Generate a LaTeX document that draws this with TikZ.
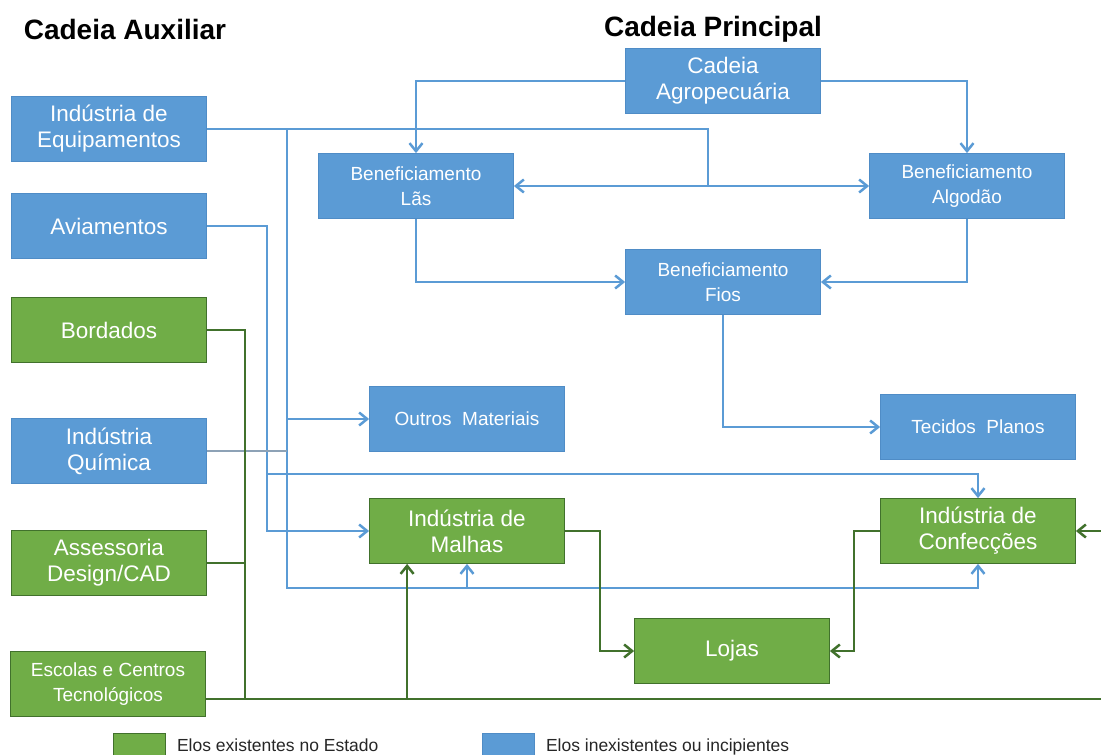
\documentclass[tikz,border=0pt]{standalone}
\usepackage{fontspec}
\setmainfont{Liberation Sans}
\usetikzlibrary{arrows.meta,positioning}
\definecolor{azul}{HTML}{5B9BD5}
\definecolor{azulborda}{HTML}{4F8CC6}
\definecolor{verde}{HTML}{70AD47}
\definecolor{verdeescuro}{HTML}{41712C}
\definecolor{cinza}{HTML}{8DA2B6}
\newcommand{\letragrande}{\fontsize{22.5}{26}\selectfont}
\newcommand{\letramedia}{\fontsize{19}{25}\selectfont}

\begin{document}
\begin{tikzpicture}[x=1pt,y=-1pt,
    elo/.style={minimum width=195pt,minimum height=65pt,text=white,align=center,
      inner sep=2pt,font=\letragrande},
    existe/.style={elo,fill=verde,draw=verdeescuro,line width=0.8pt},
    inexiste/.style={elo,fill=azul,draw=azulborda,line width=0.8pt},
    ligaazul/.style={draw=azul,line width=2.5pt},
    ligaverde/.style={draw=verdeescuro,line width=2.5pt},
    legenda/.style={inner sep=0pt,text=black!85,font=\fontsize{17.5}{20}\selectfont},
    >={Straight Barb[length=8pt,width=13pt]}]
    \useasboundingbox (0,0) rectangle (1101,755);

    % titulos
    \node[font=\bfseries\fontsize{28}{32}\selectfont] (tituloaux) at (125,29) {Cadeia Auxiliar};
    \node[font=\bfseries\fontsize{28}{32}\selectfont] (tituloprinc) at (713,29) {Cadeia Principal};

    % cadeia auxiliar
    \node[inexiste] (equip) at (109,129) {Indústria de\\Equipamentos};
    \node[inexiste] (avi) at (109,226) {Aviamentos};
    \node[existe] (bord) at (109,330) {Bordados};
    \node[inexiste] (quim) at (109,451) {Indústria\\Química};
    \node[existe] (asses) at (109,563) {Assessoria\\Design/CAD};
    \node[existe,font=\letramedia] (escol) at (108,684) {Escolas e Centros\\Tecnológicos};

    % cadeia principal
    \node[inexiste] (agro) at (723,81) {Cadeia\\Agropecuária};
    \node[inexiste,font=\letramedia] (las) at (416,186) {Beneficiamento\\Lãs};
    \node[inexiste,font=\letramedia] (alg) at (967,186) {Beneficiamento\\Algodão};
    \node[inexiste,font=\letramedia] (fios) at (723,282) {Beneficiamento\\Fios};
    \node[inexiste,font=\letramedia] (outros) at (467,419) {Outros\ \ Materiais};
    \node[inexiste,font=\letramedia] (tecidos) at (978,427) {Tecidos\ \ Planos};
    \node[existe] (malhas) at (467,531) {Indústria de\\Malhas};
    \node[existe] (conf) at (978,531) {Indústria de\\Confecções};
    \node[existe] (lojas) at (732,651) {Lojas};

    \coordinate (cruza) at (708,186);
    \coordinate (descida) at (287,129);
    \coordinate (fundo) at (467,588);
    \coordinate (desvio) at (267,474);
    \coordinate (base) at (245,699);
    \coordinate (entrada) at ([xshift=38pt]malhas.south west);

    % ligacoes azuis
    \draw[ligaazul,->] (agro.west) -| (las.north);
    \draw[ligaazul,->] (agro.east) -| (alg.north);
    \draw[ligaazul,->] (las.south) |- (fios.west);
    \draw[ligaazul,->] (alg.south) |- (fios.east);
    \draw[ligaazul,->] (fios.south) |- (tecidos.west);
    \draw[ligaazul] (equip.east) -| (cruza);
    \draw[ligaazul,->] (cruza) -- (las.east);
    \draw[ligaazul,->] (cruza) -- (alg.west);
    \draw[ligaazul] (descida) |- (fundo);
    \draw[ligaazul,->] (fundo) -- (malhas.south);
    \draw[ligaazul,->] (fundo) -| (conf.south);
    \draw[ligaazul,->] (descida |- outros.west) -- (outros.west);
    \draw[ligaazul,->] (avi.east) -| (desvio) |- (malhas.west);
    \draw[ligaazul,->] (desvio) -| (conf.north);
    \draw[draw=cinza,line width=2.5pt] (quim.east) -- (quim.east -| descida);

    % ligacoes verdes
    \draw[ligaverde] (bord.east) -| (base);
    \draw[ligaverde] (asses.east) -- (asses.east -| base);
    \draw[ligaverde] (escol.east |- base) -- (base);
    \draw[ligaverde,->] (base) -- (1115,699) |- (conf.east);
    \draw[ligaverde,->] (entrada |- base) -- (entrada);
    \draw[ligaverde,->] (malhas.east) -- ++(35,0) |- (lojas.west);
    \draw[ligaverde,->] (conf.west) -- ++(-26,0) |- (lojas.east);

    % legenda
    \node[existe,minimum width=52pt,minimum height=30pt,anchor=north west] (legverde) at (113,733) {};
    \node[legenda,right=11pt of legverde,yshift=3pt] (txtverde) {Elos existentes no Estado};
    \node[inexiste,minimum width=52pt,minimum height=30pt,anchor=north west] (legazul) at (482,733) {};
    \node[legenda,right=11pt of legazul,yshift=1pt] (txtazul) {Elos inexistentes ou incipientes};
\end{tikzpicture}
\end{document}
